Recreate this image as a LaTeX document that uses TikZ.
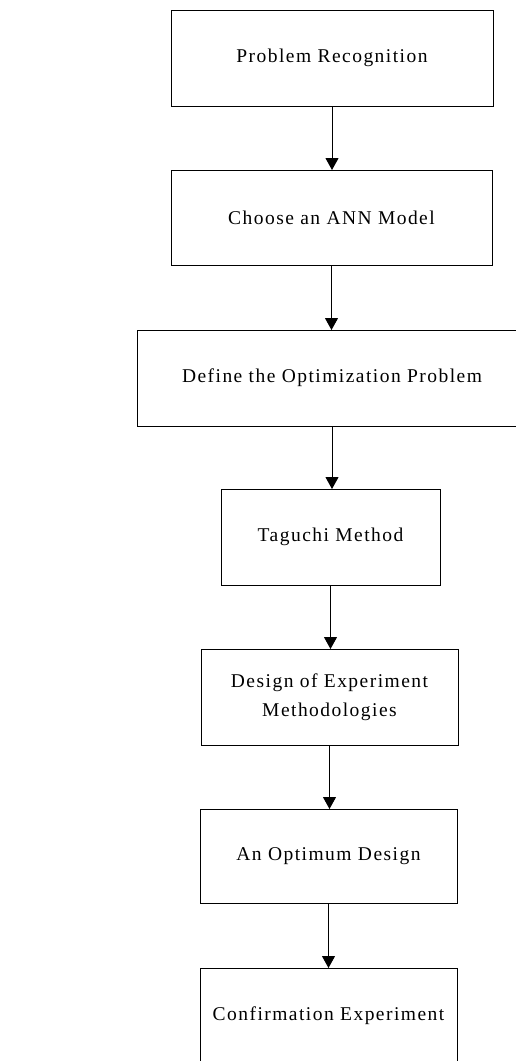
\documentclass[tikz,border=0pt]{standalone}
\usepackage{fontspec}
\setmainfont{Liberation Serif}[LetterSpace=7.5]
\usetikzlibrary{arrows.meta,calc}
\begin{document}
\begin{tikzpicture}[x=1pt,y=-1pt,
  stepbox/.style={draw,line width=1pt,inner sep=0pt,outer sep=0pt,align=center,
    font=\fontsize{19.5}{28.5}\selectfont},
  flow/.style={line width=1pt,-{Triangle[length=12pt,width=13pt]}}]
\useasboundingbox (0,0) rectangle (516,1061);
\clip (0,0) rectangle (516,1061);
\fill[white] (0,0) rectangle (516,1061);
\node[stepbox,minimum width=322pt,minimum height=96pt] (b1) at (332,58) {Problem Recognition};
\node[stepbox,minimum width=321pt,minimum height=95pt] (b2) at (331.5,217.5) {Choose an ANN Model};
\node[stepbox,minimum width=390pt,minimum height=96pt] (b3) at (332,378) {Define the Optimization Problem};
\node[stepbox,minimum width=219pt,minimum height=96pt] (b4) at (330.5,537) {Taguchi Method};
\node[stepbox,minimum width=257pt,minimum height=96pt] (b5) at (329.5,697) {Design of Experiment\\Methodologies};
\node[stepbox,minimum width=257pt,minimum height=94pt] (b6) at (328.5,856) {An Optimum Design};
\node[stepbox,minimum width=257pt,minimum height=96pt] (b7) at (328.5,1016) {Confirmation Experiment};
\draw[flow] (b1.south) -- (b1.south |- b2.north);
\draw[flow] (b2.south) -- (b2.south |- b3.north);
\draw[flow] (b3.south) -- (b3.south |- b4.north);
\draw[flow] (b4.south) -- (b4.south |- b5.north);
\draw[flow] (b5.south) -- (b5.south |- b6.north);
\draw[flow] (b6.south) -- (b6.south |- b7.north);
\end{tikzpicture}
\end{document}
